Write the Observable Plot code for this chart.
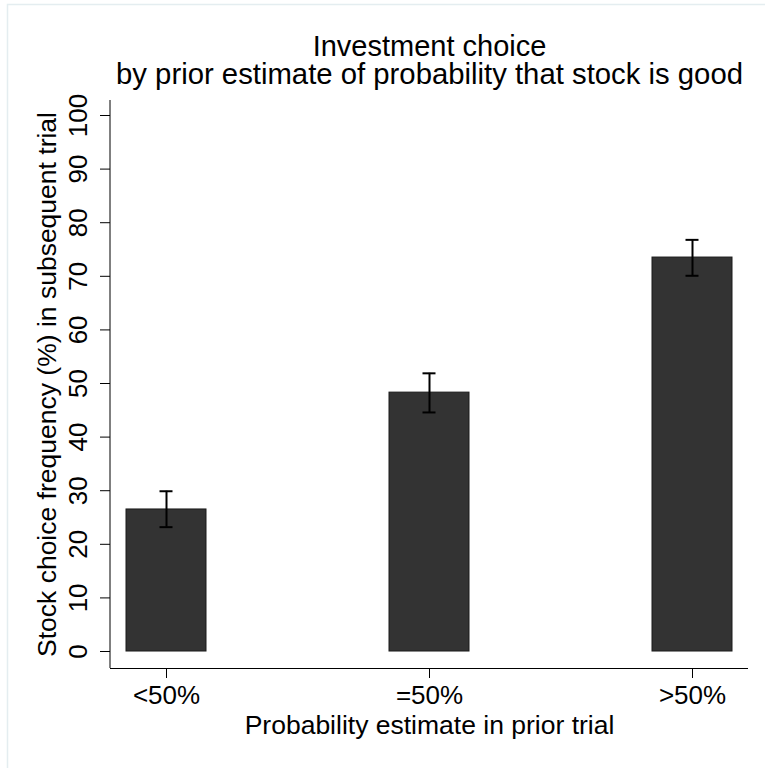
<!DOCTYPE html>
<html>
<head>
<meta charset="utf-8">
<script src="https://cdn.jsdelivr.net/npm/d3@7"></script>
<script src="https://cdn.jsdelivr.net/npm/@observablehq/plot@0.6"></script>
<style>
  html, body { margin: 0; padding: 0; background: #ffffff; }
  #chart { width: 765px; height: 768px; }
</style>
</head>
<body>
<div id="chart"></div>
<script>
// ---- data ----
const categories = ["<50%", "=50%", ">50%"];
const values = [26.5, 48.3, 73.5];
const ciLow = [23.2, 44.6, 70.1];
const ciHigh = [29.9, 51.9, 76.8];
const yTicks = [0, 10, 20, 30, 40, 50, 60, 70, 80, 90, 100];
const titleLine1 = "Investment choice";
const titleLine2 = "by prior estimate of probability that stock is good";
const xTitle = "Probability estimate in prior trial";
const yTitle = "Stock choice frequency (%) in subsequent trial";

const rows = categories.map((c, i) => ({cat: c, value: values[i], lo: ciLow[i], hi: ciHigh[i]}));
const yMin = -3.17, yMax = 102.8;
const font = "'Liberation Sans', Arial, Helvetica, sans-serif";

const chart = Plot.plot({
  width: 765,
  height: 768,
  marginTop: 100,
  marginBottom: 100,
  marginLeft: 110,
  marginRight: 17,
  style: {fontFamily: font, fontSize: "26px", color: "black", background: "white"},
  x: {domain: categories, paddingInner: 0.696, paddingOuter: 0.06, align: 0.5, label: null},
  y: {domain: [yMin, yMax], label: null},
  marks: [
    Plot.barY(rows, {x: "cat", y1: 0, y2: "value", fill: "#333333", stroke: "#1a1a1a", strokeWidth: 1}),
    Plot.ruleX(rows, {x: "cat", y1: "lo", y2: "hi", stroke: "black", strokeWidth: 2}),
    Plot.tickY(rows, {x: "cat", y: "lo", stroke: "black", strokeWidth: 2, insetLeft: 33.5, insetRight: 33.5}),
    Plot.tickY(rows, {x: "cat", y: "hi", stroke: "black", strokeWidth: 2, insetLeft: 33.5, insetRight: 33.5}),
    Plot.ruleY([yMin], {stroke: "black", strokeWidth: 1}),
    Plot.axisY(yTicks, {anchor: "left", tickSize: 10, tickRotate: -90, tickPadding: 14, tickFormat: d => String(d), label: null, fontSize: 26}),
    Plot.axisX({anchor: "bottom", tickSize: 10, tickPadding: 7, label: null, fontSize: 26}),
    Plot.text([yTitle], {frameAnchor: "left", rotate: -90, dx: -55, lineAnchor: "bottom", textAnchor: "middle", fontSize: 26.5, fill: "black"}),
    Plot.text([xTitle], {frameAnchor: "bottom", dy: 65, lineAnchor: "bottom", textAnchor: "middle", fontSize: 26.5, fill: "black"}),
    Plot.text([titleLine1], {frameAnchor: "top", dy: -44.5, lineAnchor: "bottom", textAnchor: "middle", fontSize: 29, fill: "black"}),
    Plot.text([titleLine2], {frameAnchor: "top", dy: -16.7, lineAnchor: "bottom", textAnchor: "middle", fontSize: 29.3, fill: "black"})
  ]
});

document.getElementById("chart").appendChild(chart);

// y axis line and faint outer graph-region border, positioned from Plot's own scales
const xs = chart.scale("x").range;
const ys = chart.scale("y").range;
const svg = d3.select(chart);
svg.insert("rect", ":first-child")
  .attr("x", 7.5).attr("y", 4.5).attr("width", 800).attr("height", 800)
  .attr("fill", "none").attr("stroke", "#e4edf0").attr("stroke-width", 1.5);
svg.append("line")
  .attr("x1", xs[0]).attr("x2", xs[0])
  .attr("y1", Math.min(ys[0], ys[1])).attr("y2", Math.max(ys[0], ys[1]))
  .attr("stroke", "black").attr("stroke-width", 1);
</script>
</body>
</html>
